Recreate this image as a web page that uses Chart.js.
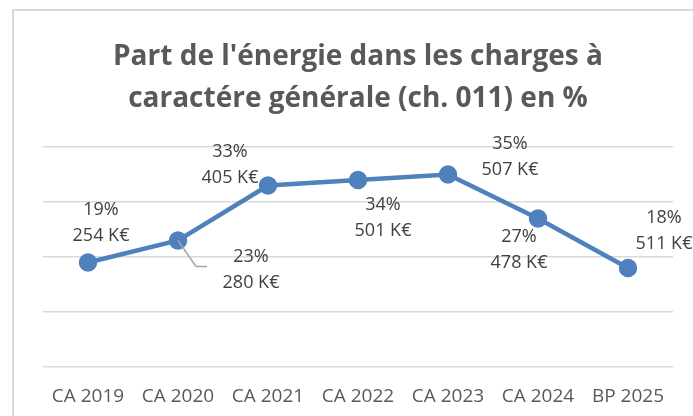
<!DOCTYPE html>
<html>
<head>
<meta charset="utf-8">
<script src="https://cdn.jsdelivr.net/npm/chart.js@4/dist/chart.umd.min.js"></script>
<style>
  html, body { margin: 0; padding: 0; background: #fff; }
  #wrap { width: 693px; height: 416px; position: relative; }
</style>
</head>
<body>
<div id="wrap"><canvas id="myChart" width="693" height="416"></canvas></div>
<script>
// données du graphique
const annees = ['CA 2019', 'CA 2020', 'CA 2021', 'CA 2022', 'CA 2023', 'CA 2024', 'BP 2025'];
const partEnergie = [19, 23, 33, 34, 35, 27, 18];      // en %
const montantsKE = [254, 280, 405, 501, 507, 478, 511]; // en K€
const ticksY = [0, 10, 20, 30, 40];

// placement des étiquettes (décalage par rapport au point)
const decalages = [
  { dx: 13, dy: -53 },
  { dx: 73, dy: 16 },
  { dx: -38, dy: -34 },
  { dx: 25, dy: 25 },
  { dx: 62, dy: -31 },
  { dx: -19, dy: 18 },
  { dx: 36, dy: -50 }
];

const cadre = {
  id: 'cadre',
  beforeDraw(chart) {
    const ctx = chart.ctx;
    ctx.save();
    ctx.strokeStyle = '#d9d9d9';
    ctx.lineWidth = 2;
    ctx.beginPath();
    ctx.moveTo(13, 420);
    ctx.lineTo(13, 10);
    ctx.lineTo(700, 10);
    ctx.stroke();
    ctx.restore();
  }
};

const etiquettes = {
  id: 'etiquettes',
  afterDatasetsDraw(chart) {
    const ctx = chart.ctx;
    const points = chart.getDatasetMeta(0).data;
    ctx.save();
    // trait de rappel pour CA 2020
    const p1 = points[1];
    ctx.strokeStyle = '#a6a6a6';
    ctx.lineWidth = 1.5;
    ctx.beginPath();
    ctx.moveTo(p1.x, p1.y);
    ctx.lineTo(p1.x + 18, p1.y + 26);
    ctx.lineTo(p1.x + 29, p1.y + 26);
    ctx.stroke();

    ctx.fillStyle = '#404040';
    ctx.font = '18px "Open Sans"';
    ctx.textAlign = 'center';
    ctx.textBaseline = 'middle';
    points.forEach((pt, i) => {
      const d = decalages[i];
      ctx.fillText(partEnergie[i] + '%', pt.x + d.dx, pt.y + d.dy);
      ctx.fillText(montantsKE[i] + ' K€', pt.x + d.dx, pt.y + d.dy + 26);
    });
    ctx.restore();
  }
};

new Chart(document.getElementById('myChart'), {
  type: 'line',
  data: {
    labels: annees,
    datasets: [{
      data: partEnergie,
      borderColor: '#4f81bd',
      backgroundColor: '#4f81bd',
      borderWidth: 4.5,
      pointRadius: 7,
      pointHoverRadius: 7,
      pointBackgroundColor: '#4f81bd',
      pointBorderColor: '#4f81bd',
      tension: 0
    }]
  },
  options: {
    responsive: false,
    animation: false,
    layout: { autoPadding: false, padding: { left: 43, right: 20, top: 36, bottom: 9 } },
    plugins: {
      legend: { display: false },
      tooltip: { enabled: false },
      title: {
        display: true,
        text: ["Part de l'énergie dans les charges à", 'caractére générale (ch. 011) en %'],
        color: '#595959',
        font: { family: '"Open Sans"', size: 28, weight: 'bold', lineHeight: 1.5 },
        padding: { top: 0, bottom: 27 }
      }
    },
    scales: {
      x: {
        offset: true,
        afterFit(scale) { scale.height = 40; },
        grid: { display: false },
        border: { display: false },
        ticks: {
          color: '#595959',
          font: { family: '"Open Sans"', size: 19 },
          padding: 10,
          maxRotation: 0
        }
      },
      y: {
        min: 0,
        max: 40,
        afterFit(scale) { scale.width = 0; },
        afterBuildTicks(scale) { scale.ticks = ticksY.map(v => ({ value: v })); },
        ticks: { display: false },
        border: { display: false },
        grid: { color: '#d9d9d9', lineWidth: 1.5, drawTicks: false }
      }
    }
  },
  plugins: [cadre, etiquettes]
});
</script>
</body>
</html>
